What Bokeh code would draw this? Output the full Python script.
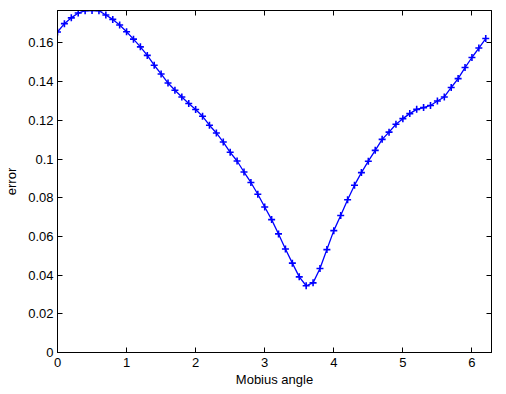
from bokeh.plotting import figure
from bokeh.models import Range1d, LinearAxis, FixedTicker
from bokeh.embed import file_html
from bokeh.resources import INLINE

# Data
angle = [0.0, 0.1, 0.2, 0.3, 0.4, 0.5, 0.6, 0.7, 0.8, 0.9,
         1.0, 1.1, 1.2, 1.3, 1.4, 1.5, 1.6, 1.7, 1.8, 1.9,
         2.0, 2.1, 2.2, 2.3, 2.4, 2.5, 2.6, 2.7, 2.8, 2.9,
         3.0, 3.1, 3.2, 3.3, 3.4, 3.5, 3.6, 3.7, 3.8, 3.9,
         4.0, 4.1, 4.2, 4.3, 4.4, 4.5, 4.6, 4.7, 4.8, 4.9,
         5.0, 5.1, 5.2, 5.3, 5.4, 5.5, 5.6, 5.7, 5.8, 5.9,
         6.0, 6.1, 6.2]
error = [0.1657, 0.1700, 0.1730, 0.1755, 0.1767, 0.1768, 0.1767, 0.1745, 0.1722, 0.1693,
         0.1658, 0.1620, 0.1580, 0.1536, 0.1485, 0.1440, 0.1393, 0.1356, 0.1321, 0.1287,
         0.1256, 0.1221, 0.1175, 0.1135, 0.1088, 0.1035, 0.0990, 0.0933, 0.0879, 0.0818,
         0.0752, 0.0687, 0.0613, 0.0535, 0.0462, 0.0391, 0.0345, 0.0360, 0.0434, 0.0532,
         0.0630, 0.0708, 0.0790, 0.0865, 0.0930, 0.0989, 0.1045, 0.1102, 0.1139, 0.1180,
         0.1209, 0.1235, 0.1257, 0.1266, 0.1277, 0.1300, 0.1321, 0.1370, 0.1416, 0.1473,
         0.1525, 0.1574, 0.1623]

x_ticks = [0, 1, 2, 3, 4, 5, 6]
x_tick_labels = ["0", "1", "2", "3", "4", "5", "6"]
y_ticks = [0, 0.02, 0.04, 0.06, 0.08, 0.1, 0.12, 0.14, 0.16]
y_tick_labels = ["0", "0.02", "0.04", "0.06", "0.08", "0.1", "0.12", "0.14", "0.16"]

FONT = "Liberation Sans"
FS = "13px"

p = figure(width=498, height=392, output_backend="svg", toolbar_location=None,
           x_range=Range1d(0, 6.2832), y_range=Range1d(0, 0.1768),
           min_border_left=57, min_border_right=7, min_border_top=10, min_border_bottom=40)
p.background_fill_color = "white"
p.border_fill_color = "white"
p.xgrid.visible = False
p.ygrid.visible = False
p.outline_line_color = "black"
p.outline_line_width = 1

p.line(angle, error, line_color="#0000ff", line_width=1.3)
p.scatter(angle, error, marker="cross", size=7, line_color="#0000ff", line_width=1.6)

def style(ax, ticks, labels, show_labels):
    ax.ticker = FixedTicker(ticks=ticks)
    ax.major_label_overrides = {t: l for t, l in zip(ticks, labels)}
    ax.major_tick_in = 5
    ax.major_tick_out = 0
    ax.minor_tick_in = 0
    ax.minor_tick_out = 0
    ax.axis_line_color = "black"
    ax.major_tick_line_color = "black"
    ax.major_label_text_font = FONT
    ax.major_label_text_color = "black"
    ax.axis_label_text_font = FONT
    ax.axis_label_text_font_size = FS
    ax.axis_label_text_font_style = "normal"
    ax.axis_label_text_color = "black"
    if show_labels:
        ax.major_label_text_font_size = FS
    else:
        ax.major_label_text_font_size = "0px"
        ax.major_label_standoff = 0

xa = p.xaxis[0]
style(xa, x_ticks, x_tick_labels, True)
xa.axis_label = "Mobius angle"
xa.major_label_standoff = 5
xa.axis_label_standoff = 2

ya = p.yaxis[0]
style(ya, y_ticks, y_tick_labels, True)
ya.axis_label = "error"
ya.major_label_standoff = 4
ya.axis_label_standoff = 6

top = LinearAxis()
style(top, x_ticks, ["" for _ in x_tick_labels], False)
p.add_layout(top, "above")

right = LinearAxis()
style(right, y_ticks, ["" for _ in y_tick_labels], False)
p.add_layout(right, "right")

open("out.html", "w").write(file_html(p, INLINE))
